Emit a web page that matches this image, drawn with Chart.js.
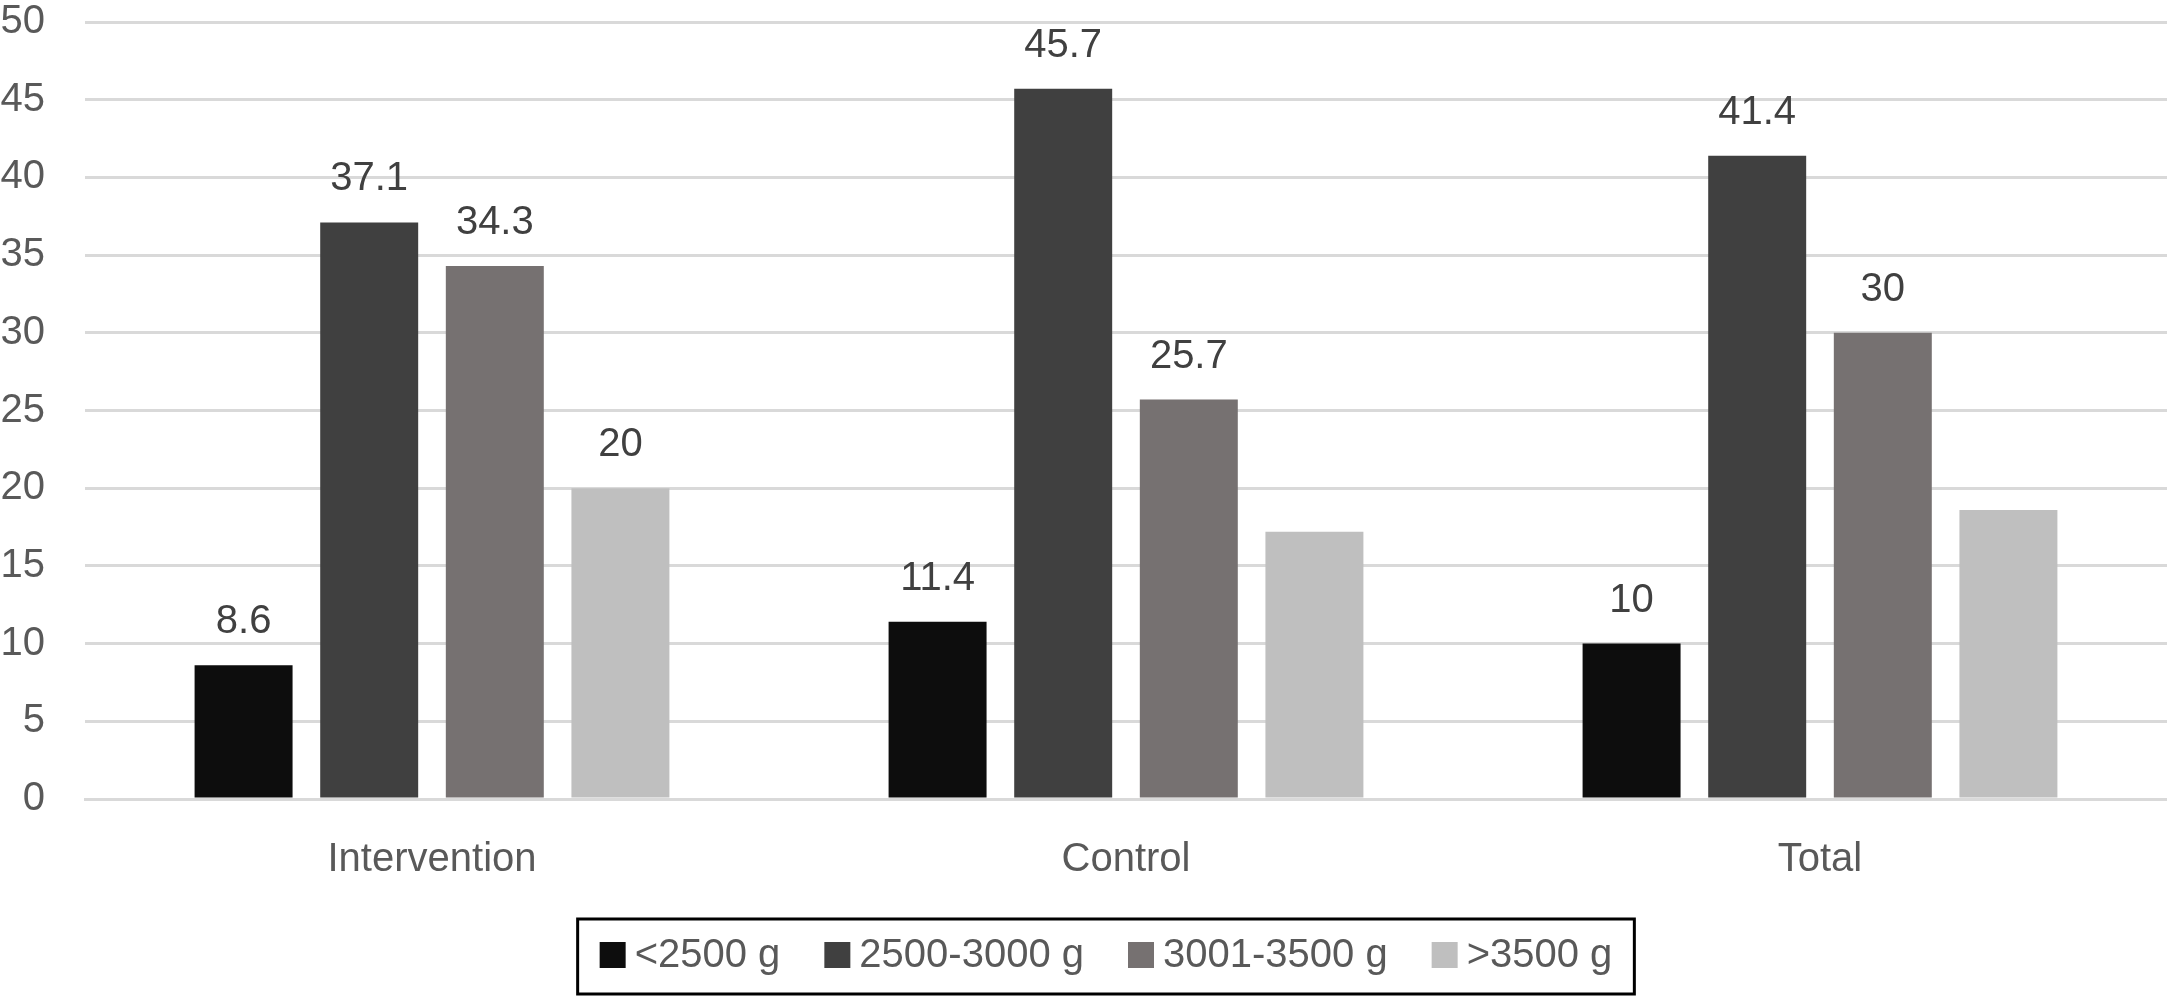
<!DOCTYPE html>
<html>
<head>
<meta charset="utf-8">
<title>Birth weight by group</title>
<script src="https://cdn.jsdelivr.net/npm/chart.js@4.4.1/dist/chart.umd.min.js"></script>
<style>
  html, body { margin: 0; padding: 0; background: #fff; }
  #wrap { width: 2167px; height: 997px; }
</style>
</head>
<body>
<div id="wrap"><canvas id="weightChart"></canvas></div>
<script>
// data (percent)
const groups = ['Intervention', 'Control', 'Total'];
const seriesNames = ['<2500 g', '2500-3000 g', '3001-3500 g', '>3500 g'];
const under2500 = [8.6, 11.4, 10];
const from2500to3000 = [37.1, 45.7, 41.4];
const from3001to3500 = [34.3, 25.7, 30];
const over3500 = [20, 17.2, 18.6];
// which bars carry a value label in the original
const labelled = [
    [true, true, true],
    [true, true, true],
    [true, true, true],
    [true, false, false]
];
const yTicks = [0, 5, 10, 15, 20, 25, 30, 35, 40, 45, 50];

const colours = ['#0D0D0D', '#404040', '#767171', '#BFBFBF'];
const FONT = "'Liberation Sans', Arial, Helvetica, sans-serif";

const values = [under2500, from2500to3000, from3001to3500, over3500];

// numbers above bars
const barValues = {
    id: 'barValues',
    afterDatasetsDraw(chart) {
        const ctx = chart.ctx;
        ctx.save();
        ctx.font = '40px ' + FONT;
        ctx.fillStyle = '#404040';
        ctx.textAlign = 'center';
        ctx.textBaseline = 'alphabetic';
        chart.data.datasets.forEach((ds, i) => {
            chart.getDatasetMeta(i).data.forEach((bar, j) => {
                if (!labelled[i][j]) return;
                ctx.fillText(String(ds.data[j]), bar.x, bar.y - 32);
            });
        });
        ctx.restore();
    }
};

// boxed legend under the axis
const boxedLegend = {
    id: 'boxedLegend',
    afterDraw(chart) {
        const ctx = chart.ctx;
        const sq = 26, gapText = 9, gapItem = 44, padX = 22;
        const cx = 1106, cy = 955;
        ctx.save();
        ctx.font = '40px ' + FONT;
        const items = chart.data.datasets.map(ds => ({
            text: ds.label,
            colour: ds.backgroundColor,
            w: sq + gapText + ctx.measureText(ds.label).width
        }));
        const total = items.reduce((s, it) => s + it.w, 0) + gapItem * (items.length - 1);
        let x = cx - total / 2;

        ctx.strokeStyle = '#000';
        ctx.lineWidth = 3;
        ctx.strokeRect(x - padX, 919, total + padX * 2, 75);

        ctx.textBaseline = 'middle';
        ctx.textAlign = 'left';
        items.forEach(it => {
            ctx.fillStyle = it.colour;
            ctx.fillRect(x, cy - sq / 2, sq, sq);
            ctx.fillStyle = '#595959';
            ctx.fillText(it.text, x + sq + gapText, cy + 1);
            x += it.w + gapItem;
        });
        ctx.restore();
    }
};

const ctx = document.getElementById('weightChart').getContext('2d');
new Chart(ctx, {
    type: 'bar',
    data: {
        labels: groups,
        datasets: seriesNames.map((name, i) => ({
            label: name,
            data: values[i],
            backgroundColor: colours[i],
            borderWidth: 0,
            categoryPercentage: 0.724,
            barPercentage: 0.78
        }))
    },
    options: {
        responsive: true,
        maintainAspectRatio: false,
        animation: false,
        layout: { padding: { left: 0, right: 0, top: 22, bottom: 118 } },
        plugins: {
            legend: { display: false },
            tooltip: { enabled: false },
            title: { display: false }
        },
        scales: {
            x: {
                grid: { display: false, drawTicks: false },
                border: { display: true, color: '#D9D9D9', width: 3 },
                ticks: {
                    color: '#595959',
                    font: { family: FONT, size: 40 },
                    padding: 37
                },
                afterFit(axis) {
                    axis.height = 80;
                    axis.paddingLeft = 0;
                    axis.paddingRight = 0;
                }
            },
            y: {
                min: 0,
                max: 50,
                afterBuildTicks(axis) {
                    axis.ticks = yTicks.map(v => ({ value: v }));
                },
                grid: { color: '#D9D9D9', lineWidth: 3, drawTicks: false },
                border: { display: false },
                ticks: {
                    color: '#595959',
                    font: { family: FONT, size: 40 },
                    padding: 40
                },
                afterFit(axis) {
                    axis.width = 85;
                    axis.paddingTop = 0;
                    axis.paddingBottom = 0;
                }
            }
        }
    },
    plugins: [barValues, boxedLegend]
});
</script>
</body>
</html>
